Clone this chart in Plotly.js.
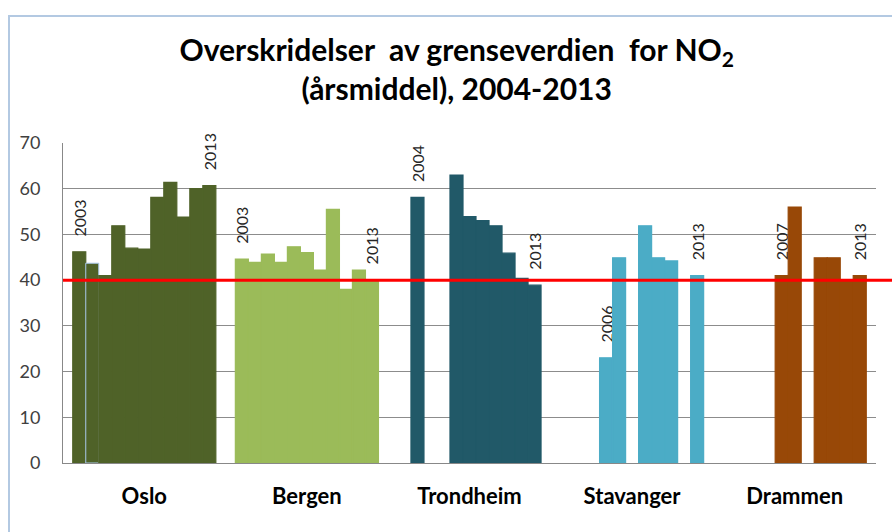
<!DOCTYPE html>
<html>
<head>
<meta charset="utf-8">
<script src="https://cdn.plot.ly/plotly-3.0.1.min.js"></script>
<style>
  html, body { margin: 0; padding: 0; background: #fff; overflow: hidden; }
  #wrap { position: relative; width: 892px; height: 532px; }
  #chart { width: 892px; height: 532px; }
  #frame { position: absolute; left: 8px; top: 15px; width: 900px; height: 600px;
           border: 2px solid #b3c9e2; box-sizing: border-box; pointer-events: none; }
</style>
</head>
<body>
<div id="wrap">
  <div id="chart"></div>
  <div id="frame"></div>
</div>
<script>
// ---- data ----
const cities = ['Oslo', 'Bergen', 'Trondheim', 'Stavanger', 'Drammen'];
const years = [2003, 2004, 2005, 2006, 2007, 2008, 2009, 2010, 2011, 2012, 2013];
const oslo      = [46.2, 43.7, 41.0, 51.9, 47.0, 46.8, 58.1, 61.4, 53.8, 60.0, 60.7];
const bergen    = [44.6, 43.9, 45.7, 43.9, 47.3, 46.0, 42.2, 55.5, 38.0, 42.2, 40.1];
const trondheim = [null, 58.1, null, null, 63.0, 53.9, 53.0, 51.9, 45.9, 40.4, 38.9];
const stavanger = [null, null, null, 23.0, 44.9, null, 51.9, 44.9, 44.2, null, 41.0];
const drammen   = [null, null, null, null, 41.0, 56.0, null, 44.9, 44.9, 39.8, 41.0];
const labelledYears = [[2003, 2013], [2003, 2013], [2004, 2013], [2006, 2013], [2007, 2013]];
const limitValue = 40;
const cityColors = ['#4f6228', '#9bbb59', '#215968', '#4bacc6', '#984807'];

// ---- traces: one per year, grouped by city ----
const series = [oslo, bergen, trondheim, stavanger, drammen];
const isOutlined = (yr, k) => yr === 2004 && k === 0;
const traces = years.map((yr, i) => ({
  type: 'bar',
  x: cities,
  y: series.map(s => s[i]),
  // leading no-break spaces keep a gap between the bar end and the rotated year label
  text: labelledYears.map(l => (l.includes(yr) ? '\u00a0\u00a0\u00a0' + String(yr) : null)),
  textposition: 'outside',
  textangle: -90,
  constraintext: 'none',
  cliponaxis: false,
  textfont: { family: 'Lato, sans-serif', size: 16, color: '#262626' },
  marker: {
    color: cityColors,
    line: {
      color: cities.map((c, k) => (isOutlined(yr, k) ? '#a9c8ea' : cityColors[k])),
      width: cities.map((c, k) => (isOutlined(yr, k) ? 1 : 1.2))
    }
  },
  hoverinfo: 'skip',
  showlegend: false
}));

const layout = {
  width: 892,
  height: 532,
  margin: { l: 63, r: 16, t: 143, b: 69 },
  paper_bgcolor: '#ffffff',
  plot_bgcolor: '#ffffff',
  barmode: 'group',
  bargap: 0.12,
  bargroupgap: 0,
  title: {
    text: 'Overskridelser  av grenseverdien  for NO<sub>2</sub><br>(årsmiddel), 2004-2013',
    font: { family: 'Lato, sans-serif', size: 30, color: '#000000', weight: 'bold' },
    xref: 'container', x: 0.512, xanchor: 'center',
    yref: 'container', y: 0.885, yanchor: 'top'
  },
  xaxis: {
    type: 'category',
    showgrid: false,
    showline: true,
    linecolor: '#888888',
    linewidth: 1,
    ticks: '',
    tickfont: { family: 'Lato, sans-serif', size: 22, color: '#000000', weight: 'bold' },
    ticklabelstandoff: 14
  },
  yaxis: {
    range: [0, 70],
    dtick: 10,
    tick0: 0,
    showgrid: true,
    gridcolor: '#8c8c8c',
    gridwidth: 1,
    showline: true,
    linecolor: '#888888',
    linewidth: 1,
    zeroline: false,
    ticks: '',
    ticklabelstandoff: 18,
    tickfont: { family: 'Lato, sans-serif', size: 18, color: '#404040' }
  },
  shapes: [{
    type: 'line',
    xref: 'paper', yref: 'y',
    x0: 0, x1: 1.03,
    y0: limitValue, y1: limitValue,
    line: { color: '#ff0000', width: 3 },
    layer: 'above'
  }]
};

Plotly.newPlot('chart', traces, layout, { displayModeBar: false, staticPlot: true });
</script>
</body>
</html>
